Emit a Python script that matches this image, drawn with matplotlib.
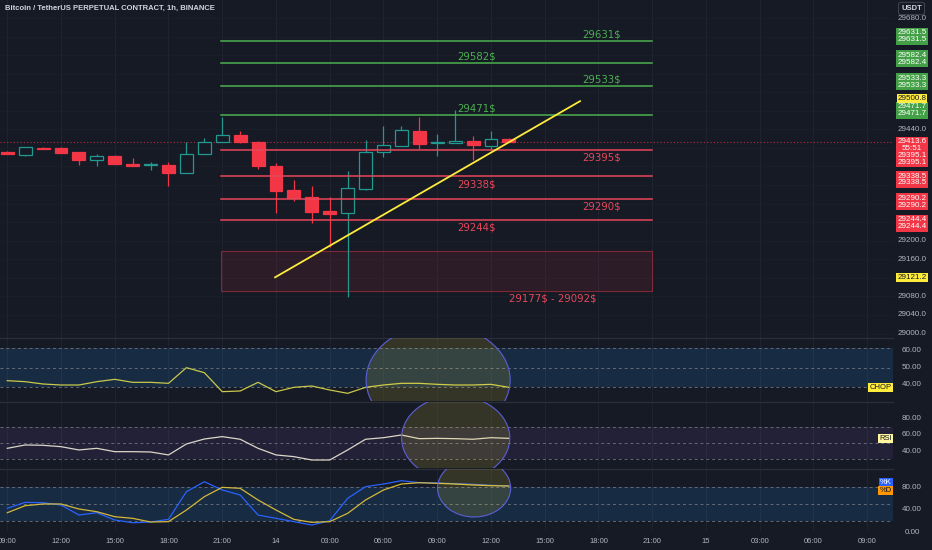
import matplotlib
matplotlib.use('Agg')
import matplotlib.pyplot as plt
from matplotlib.patches import Rectangle, Ellipse
from matplotlib.transforms import blended_transform_factory, offset_copy
import numpy as np

# hourly candles, 13th 09:00 -> 14th 13:00
opens = [29392, 29385, 29400, 29400, 29391, 29375, 29383, 29365, 29363, 29364,
         29347, 29388, 29413, 29427, 29413, 29361, 29309, 29295, 29264, 29259,
         29311, 29392, 29405, 29437, 29410, 29411, 29415, 29405, 29420]
highs = [29393, 29402, 29401, 29401, 29392, 29386, 29384, 29379, 29370, 29369,
         29412, 29422, 29466, 29436, 29414, 29368, 29331, 29318, 29295, 29351,
         29417, 29447, 29447, 29467, 29429, 29482, 29426, 29437, 29421]
lows = [29386, 29383, 29397, 29390, 29363, 29360, 29365, 29361, 29352, 29318,
        29346, 29387, 29412, 29411, 29355, 29259, 29286, 29238, 29187, 29078,
        29310, 29381, 29404, 29397, 29383, 29410, 29374, 29395, 29413]
closes = [29387, 29401, 29398, 29390, 29374, 29383, 29365, 29362, 29365, 29346,
          29388, 29412, 29428, 29412, 29361, 29308, 29293, 29263, 29258, 29313,
          29392, 29406, 29439, 29409, 29411, 29414, 29406, 29420, 29413.6]

green_levels = [29631.5, 29582.4, 29533.3, 29471.7]
red_levels = [29395.1, 29338.5, 29290.2, 29244.4]
zone = [29177, 29092]
trend = [29121.2, 29500.8]
last_price = 29413.6
countdown = '55:51'
price_grid = list(range(29000, 29681, 40))
price_labels = [29680, 29440, 29200, 29160, 29080, 29040, 29000]

chop = [42.2, 41.6, 40.2, 39.6, 39.6, 41.6, 43.0, 41.2, 41.2, 40.6,
        50.0, 47.0, 35.6, 36.0, 41.2, 35.6, 38.2, 39.0, 36.6, 34.6,
        38.2, 39.6, 40.6, 40.6, 40.0, 39.6, 39.6, 40.0, 38.2]
rsi = [43.3, 47.4, 47.0, 45.3, 41.3, 43.3, 39.2, 39.2, 38.8, 35.2,
       48.6, 54.7, 57.6, 54.4, 43.3, 35.2, 33.1, 29.0, 29.0, 41.3,
       54.4, 56.3, 59.6, 55.1, 55.5, 55.1, 54.4, 56.3, 55.5]
stoch_k = [42.1, 52.8, 52.1, 48.0, 30.2, 34.3, 21.3, 16.5, 17.8, 22.5,
           71.7, 89.4, 74.7, 65.8, 30.2, 24.3, 18.4, 12.4, 20.1, 59.9,
           80.6, 85.3, 91.2, 87.7, 87.1, 85.9, 84.7, 83.0, 81.8]
stoch_d = [34.3, 46.8, 49.8, 49.8, 40.9, 36.1, 27.2, 24.3, 17.8, 18.4,
           39.1, 62.8, 79.4, 77.7, 56.9, 39.1, 22.5, 17.2, 18.4, 33.2,
           56.9, 74.7, 85.3, 87.7, 86.5, 85.3, 83.6, 82.3, 81.8]

time_labels = ['09:00', '12:00', '15:00', '18:00', '21:00', '14', '03:00', '06:00',
               '09:00', '12:00', '15:00', '18:00', '21:00', '15', '03:00', '06:00', '09:00']

BG = '#161a25'
GRID = '#1f2330'
UP = '#22998e'
DN = '#f23645'
GRN = '#4caf50'
RED = '#e8475a'
TXT = '#b2b5be'
FONT = 'Liberation Sans'

W, H = 932, 550
XL = (-0.405, 49.44)


def rect(x0, y0, x1, y1):
    return [x0 / W, 1 - y1 / H, (x1 - x0) / W, (y1 - y0) / H]


fig = plt.figure(figsize=(W / 100, H / 100), dpi=100, facecolor=BG)
ax = fig.add_axes(rect(0, 0, 893, 337.5))
ax_c = fig.add_axes(rect(0, 338, 893, 401), sharex=ax)
ax_r = fig.add_axes(rect(0, 402, 893, 468), sharex=ax)
ax_s = fig.add_axes(rect(0, 469, 893, 531), sharex=ax)

xt = np.arange(0, 49, 3)
for a in (ax, ax_c, ax_r, ax_s):
    a.set_facecolor(BG)
    for s in ('left', 'right', 'bottom'):
        a.spines[s].set_visible(False)
    a.spines['top'].set_color('#2a2e39')
    a.spines['top'].set_linewidth(1.0)
    a.set_yticks([])
    a.tick_params(axis='x', length=0, labelbottom=False)
    for t in xt:
        a.axvline(t, color=GRID, lw=0.8, zorder=0)
ax.spines['top'].set_visible(False)
ax.set_xlim(*XL)

# ---- main price chart
ax.set_ylim(28991.5, 29718.8)
for p in price_grid:
    ax.axhline(p, color='#1b1f2a', lw=0.7, zorder=0)

w = 0.72
for i in range(len(opens)):
    o, hi, lo, c = opens[i], highs[i], lows[i], closes[i]
    up = c >= o
    col = UP if up else DN
    ax.vlines(i, lo, hi, color=col, lw=0.9, zorder=2)
    hb = max(abs(c - o), 1.8)
    ax.add_patch(Rectangle((i - w / 2, min(o, c)), w, hb,
                           facecolor=BG if up else DN, edgecolor=col, lw=0.9, zorder=3))

ax.axhline(last_price, color=DN, lw=0.8, ls=(0, (1, 2)), alpha=0.7, zorder=1)

x0, x1 = 11.93, 36.0
x_mid, x_right = 25.1, 32.1
up_off = offset_copy(ax.transData, fig=fig, y=1.0, units='points')
dn_off = offset_copy(ax.transData, fig=fig, y=-2.0, units='points')
for k, lv in enumerate(green_levels):
    ax.plot([x0, x1], [lv, lv], color=GRN, lw=1.1, zorder=4)
    ax.text(x_right if k % 2 == 0 else x_mid, lv, '%d\\$' % int(lv), color=GRN,
            fontsize=7.3, ha='left', va='bottom', transform=up_off, zorder=5)
for k, lv in enumerate(red_levels):
    ax.plot([x0, x1], [lv, lv], color=RED, lw=1.1, zorder=4)
    ax.text(x_right if k % 2 == 0 else x_mid, lv, '%d\\$' % int(lv), color=RED,
            fontsize=7.3, ha='left', va='top', transform=dn_off, zorder=5)

ax.add_patch(Rectangle((x0, zone[1]), x1 - x0, zone[0] - zone[1],
                       facecolor=(0.95, 0.21, 0.27, 0.10),
                       edgecolor=(0.95, 0.21, 0.27, 0.45), lw=0.8, zorder=1))
ax.text((x0 + x1) / 2 + 6.5, zone[1], '%d\\$ - %d\\$' % (zone[0], zone[1]), color=RED,
        fontsize=7.3, ha='center', va='top', transform=dn_off, zorder=5)

ax.plot([14.95, 31.97], trend, color='#ffeb3b', lw=1.3, zorder=6)

# ---- price scale
bt = blended_transform_factory(ax.transAxes, ax.transData)
xs = 912 / 893
for p in price_labels:
    ax.text(xs, p, '%.1f' % p, transform=bt, ha='center', va='center',
            fontsize=5.8, color=TXT, family=FONT, clip_on=False)


def plabel(y, txt, fc, tc, dy=0.0, pad=0.2):
    tr = offset_copy(bt, fig=fig, y=dy, units='points')
    ax.text(xs, y, txt, transform=tr, ha='center', va='center', fontsize=5.8,
            color=tc, family=FONT, linespacing=0.95, clip_on=False, zorder=10,
            bbox=dict(boxstyle='square,pad=%s' % pad, fc=fc, ec='none'))


for lv in green_levels:
    plabel(lv, '%.1f\n%.1f' % (lv, lv), '#43a047', 'white', dy=3.2)
plabel(trend[1], '%.1f' % trend[1], '#ffeb3b', '#131722', dy=2.2, pad=0.12)
plabel(trend[0], '%.1f' % trend[0], '#ffeb3b', '#131722', dy=0, pad=0.12)
plabel(red_levels[0], '%.1f\n%s\n%.1f\n%.1f' % (last_price, countdown, red_levels[0], red_levels[0]),
       DN, 'white', dy=-1.3)
for lv in red_levels[1:]:
    plabel(lv, '%.1f\n%.1f' % (lv, lv), DN, 'white', dy=-2.2)

fig.text(5 / W, 1 - 8 / H, 'Bitcoin / TetherUS PERPETUAL CONTRACT, 1h, BINANCE',
         color='#d1d4dc', fontsize=5.5, family=FONT, fontweight='bold', va='center')
fig.text(911.5 / W, 1 - 8.5 / H, 'USDT', color='#d1d4dc', fontsize=5.5, family=FONT,
         fontweight='bold', ha='center', va='center',
         bbox=dict(boxstyle='round,pad=0.35,rounding_size=0.3', fc=BG, ec='#434651', lw=0.7))

xi = np.arange(len(chop))
hl_face = (1.0, 0.92, 0.23, 0.13)
hl_edge = '#5c5fd6'


def panel(a, lo, hi, levels, band, band_col, band_alpha, ticks):
    a.set_ylim(lo, hi)
    a.axhspan(band[0], band[1], color=band_col, alpha=band_alpha, lw=0, zorder=0)
    for lv in levels:
        a.axhline(lv, color='#787b86', lw=0.7, ls=(0, (3, 3)), alpha=0.8, zorder=1)
    tr = blended_transform_factory(a.transAxes, a.transData)
    for t in ticks:
        a.text(xs, t, '%.2f' % t, transform=tr, ha='center', va='center',
               fontsize=5.8, color=TXT, family=FONT, clip_on=False)
    return tr


def tag(a, tr, y, txt, fc, tc, dy=0.0):
    t2 = offset_copy(tr, fig=fig, y=dy, units='points')
    a.text(0.9985, y, txt, transform=t2, ha='right', va='center', fontsize=5.5,
           color=tc, family=FONT, clip_on=False, zorder=10,
           bbox=dict(boxstyle='square,pad=0.15', fc=fc, ec='none'))


# ---- CHOP
tr = panel(ax_c, 30.0, 67.8, [61.8, 50, 38.2], (38.2, 61.8), '#2196f3', 0.14, [60, 50, 40])
ax_c.plot(xi, chop, color='#c9c84a', lw=0.9, zorder=3)
ax_c.add_patch(Ellipse((24.05, 42.6), 8.04, 66, fc=hl_face, ec=hl_edge, lw=0.8, zorder=4))
tag(ax_c, tr, chop[-1], 'CHOP', '#ffeb3b', '#131722')

# ---- RSI
tr = panel(ax_r, 19.2, 100, [70, 50, 30], (30, 70), '#7e57c2', 0.12, [80, 60, 40])
ax_r.plot(xi, rsi, color='#dcd6c8', lw=0.9, zorder=3)
ax_r.add_patch(Ellipse((25.03, 56), 6.04, 103, fc=hl_face, ec=hl_edge, lw=0.8, zorder=4))
tag(ax_r, tr, rsi[-1], 'RSI', '#fff59d', '#131722')

# ---- Stoch
tr = panel(ax_s, 1.8, 112, [80, 50, 20], (20, 80), '#2196f3', 0.14, [80, 40, 0])
ax_s.plot(xi, stoch_k, color='#2962ff', lw=0.9, zorder=3)
ax_s.plot(xi, stoch_d, color='#d4b83a', lw=0.9, zorder=3)
ax_s.add_patch(Ellipse((26.06, 78.2), 4.08, 103, fc=hl_face, ec=hl_edge, lw=0.8, zorder=4))
tag(ax_s, tr, stoch_k[-1], '%K', '#2962ff', 'white', dy=2.6)
tag(ax_s, tr, stoch_d[-1], '%D', '#ff9800', '#131722', dy=-3.2)

ax_s.set_xticks(xt)
ax_s.set_xticklabels(time_labels)
ax_s.tick_params(axis='x', length=0, pad=5, labelbottom=True, labelsize=5.5, labelcolor=TXT)
for lab in ax_s.get_xticklabels():
    lab.set_family(FONT)
ax.set_xlim(*XL)

fig.savefig('out.png', dpi=100, facecolor=BG)
